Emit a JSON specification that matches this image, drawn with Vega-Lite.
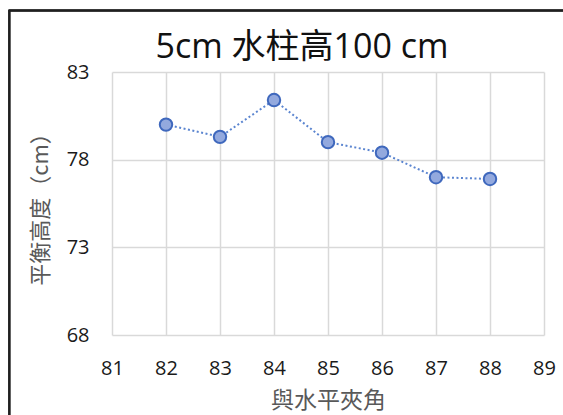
{
  "$schema": "https://vega.github.io/schema/vega-lite/v6.json",
  "width": 432,
  "height": 263,
  "autosize": {"type": "none"},
  "padding": {"left": 112, "top": 72, "right": 19, "bottom": 80},
  "background": "#ffffff",
  "title": {
    "text": "5cm 水柱高100 cm",
    "font": "Open Sans, Noto Sans CJK TC",
    "fontSize": 34,
    "fontWeight": "normal",
    "color": "#111111",
    "anchor": "middle",
    "frame": "group",
    "baseline": "alphabetic",
    "offset": -82,
    "dx": -26
  },
  "data": {
    "values": [
      {"angle": 82, "height": 80.0},
      {"angle": 83, "height": 79.3},
      {"angle": 84, "height": 81.4},
      {"angle": 85, "height": 79.0},
      {"angle": 86, "height": 78.4},
      {"angle": 87, "height": 77.0},
      {"angle": 88, "height": 76.9}
    ]
  },
  "encoding": {
    "x": {
      "field": "angle",
      "type": "quantitative",
      "title": "與水平夾角",
      "scale": {"domain": [81, 89], "nice": false, "zero": false},
      "axis": {"values": [81, 82, 83, 84, 85, 86, 87, 88, 89], "labelFlush": false, "labelOverlap": false, "titlePadding": 11, "titleFontSize": 23}
    },
    "y": {
      "field": "height",
      "type": "quantitative",
      "title": "平衡高度（cm）",
      "scale": {"domain": [68, 83], "nice": false, "zero": false},
      "axis": {"values": [68, 73, 78, 83], "labelFlush": false, "titlePadding": 14}
    }
  },
  "layer": [
    {
      "mark": {"type": "rect", "fill": null, "filled": false, "stroke": "#1f1f1f", "strokeWidth": 1.5},
      "encoding": {
        "x": {"datum": 79.1, "type": "quantitative"},
        "x2": {"datum": 91},
        "y": {"datum": 86.51, "type": "quantitative"},
        "y2": {"datum": 62}
      }
    },
    {
      "mark": {"type": "line", "color": "#5b85d0", "strokeWidth": 2, "strokeDash": [2, 2.5]}
    },
    {
      "mark": {"type": "point", "filled": true, "fill": "#93a9de", "fillOpacity": 1, "stroke": "#3f68bd", "strokeWidth": 2, "size": 155, "opacity": 1}
    }
  ],
  "config": {
    "view": {"stroke": null},
    "axis": {
      "domain": false,
      "ticks": false,
      "grid": true,
      "gridColor": "#d9d9d9",
      "gridWidth": 1.5,
      "labelFont": "Open Sans",
      "labelFontSize": 20,
      "labelColor": "#1a1a1a",
      "labelPadding": 23,
      "titleFont": "Noto Sans CJK TC",
      "titleFontSize": 22,
      "titleFontWeight": "normal",
      "titleColor": "#595959"
    }
  }
}
